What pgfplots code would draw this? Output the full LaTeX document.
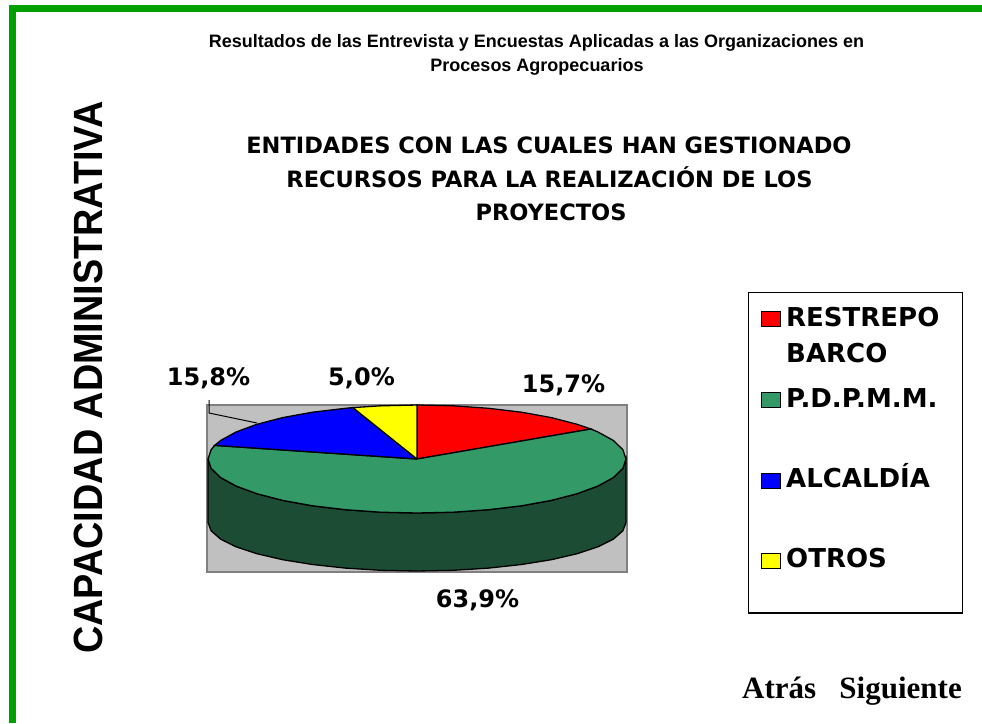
\documentclass[border=0pt]{standalone}
\usepackage{fontspec}
\setmainfont{Liberation Sans}
\newfontfamily\dejavu{DejaVu Sans}
\newfontfamily\timesfont{Liberation Serif}
\usepackage{pgfplots}
\pgfplotsset{compat=1.18}

\definecolor{slred}{RGB}{255,0,0}
\definecolor{slgreen}{RGB}{51,153,102}
\definecolor{slside}{RGB}{28,76,52}
\definecolor{slblue}{RGB}{0,0,255}
\definecolor{slyellow}{RGB}{255,255,0}
\definecolor{plotgray}{RGB}{192,192,192}
\definecolor{frame}{RGB}{0,160,0}

\begin{document}
\begin{tikzpicture}
\begin{axis}[
  scale only axis, width=982pt, height=723pt,
  xmin=0, xmax=982, ymin=0, ymax=723, y dir=reverse,
  hide axis, clip=false,
]
\coordinate (bbA) at (axis cs:0,0);
\coordinate (bbB) at (axis cs:982,723);
% page background and green frame
\fill[white] (axis cs:0,0) rectangle (axis cs:982,723);
\draw[frame, line width=6.5pt] (axis cs:12.5,723) -- (axis cs:12.5,8.5) -- (axis cs:982,8.5);

% header
\node[anchor=base, inner sep=0, font=\bfseries\fontsize{18}{22}\selectfont]
  at (axis cs:536.5,47) {Resultados de las Entrevista y Encuestas Aplicadas a las Organizaciones en};
\node[anchor=base, inner sep=0, font=\bfseries\fontsize{18}{22}\selectfont]
  at (axis cs:537,71) {Procesos Agropecuarios};

% chart title
\node[anchor=base, inner sep=0, font=\dejavu\bfseries\fontsize{22.5}{30}\selectfont]
  at (axis cs:549,153) {ENTIDADES CON LAS CUALES HAN GESTIONADO};
\node[anchor=base, inner sep=0, font=\dejavu\bfseries\fontsize{22.5}{30}\selectfont]
  at (axis cs:549.5,187) {RECURSOS PARA LA REALIZACIÓN DE LOS};
\node[anchor=base, inner sep=0, font=\dejavu\bfseries\fontsize{22.5}{30}\selectfont]
  at (axis cs:551,220) {PROYECTOS};

% side title
\node[rotate=90, inner sep=0, font=\bfseries\fontsize{37.8}{40}\selectfont]
  at (axis cs:88,377.5) {\scalebox{1}[1.08]{CAPACIDAD ADMINISTRATIVA}};

% plot area
\draw[fill=plotgray, draw=gray, line width=1.2pt] (axis cs:207,405) rectangle (axis cs:627,572);

% shares: RESTREPO BARCO 15,7 / P.D.P.M.M. 63,9 / ALCALDIA 15,8 / OTROS 5,0 (%)
% side of the pie (all P.D.P.M.M.)
\addplot[fill=slside, draw=black, line width=1.3pt] coordinates {
  (208,459)(211.2,468.4)(220.6,477.5)(236.0,486.0)(256.9,493.7)(282.7,500.4)
  (312.5,505.8)(345.5,509.7)(380.7,512.2)(417,513)(453.3,512.2)(488.5,509.7)
  (521.5,505.8)(551.3,500.4)(577.1,493.7)(598.0,486.0)(613.4,477.5)(622.8,468.4)
  (626,459)(626,522.5)(622.8,530.9)(613.4,539.1)(598.0,546.8)(577.1,553.7)
  (551.3,559.7)(521.5,564.5)(488.5,568.1)(453.3,570.3)(417,571)(380.7,570.3)
  (345.5,568.1)(312.5,564.5)(282.7,559.7)(256.9,553.7)(236.0,546.8)(220.6,539.1)
  (211.2,530.9)(208,522.5)(208,459)};

% top face wedges
\addplot[fill=slred, draw=black, line width=1.3pt] coordinates {
  (417,459)(417,405)(453.3,405.8)(488.5,408.3)(521.5,412.2)(551.3,417.6)
  (577.1,424.3)(590.9,429.0)(417,459)};
\addplot[fill=slgreen, draw=black, line width=1.3pt] coordinates {
  (417,459)(590.9,429.0)(598.0,432.0)(613.4,440.5)(622.8,449.6)(626,459)
  (622.8,468.4)(613.4,477.5)(598.0,486.0)(577.1,493.7)(551.3,500.4)(521.5,505.8)
  (488.5,509.7)(453.3,512.2)(417,513)(380.7,512.2)(345.5,509.7)(312.5,505.8)
  (282.7,500.4)(256.9,493.7)(236.0,486.0)(220.6,477.5)(211.2,468.4)(208,459)
  (211.2,449.6)(214.7,445.4)(417,459)};
\addplot[fill=slblue, draw=black, line width=1.3pt] coordinates {
  (417,459)(214.7,445.4)(220.6,440.5)(236.0,432.0)(256.9,424.3)(282.7,417.6)
  (312.5,412.2)(345.5,408.3)(352.8,407.6)(417,459)};
\addplot[fill=slyellow, draw=black, line width=1.3pt] coordinates {
  (417,459)(352.8,407.6)(380.7,405.8)(417,405)(417,459)};

% data labels
\draw[black, line width=1pt] (axis cs:209,400) -- (axis cs:209,413) -- (axis cs:257,423);
\node[anchor=base, inner sep=0, font=\dejavu\bfseries\fontsize{24}{28}\selectfont]
  at (axis cs:208.5,385) {15,8\%};
\node[anchor=base, inner sep=0, font=\dejavu\bfseries\fontsize{24}{28}\selectfont]
  at (axis cs:361.5,385) {5,0\%};
\node[anchor=base, inner sep=0, font=\dejavu\bfseries\fontsize{24}{28}\selectfont]
  at (axis cs:563.5,392) {15,7\%};
\node[anchor=base, inner sep=0, font=\dejavu\bfseries\fontsize{24}{28}\selectfont]
  at (axis cs:477.5,607) {63,9\%};

% legend
\draw[black, line width=1.5pt, fill=white] (axis cs:748.3,292.7) rectangle (axis cs:962.7,613);
\draw[fill=slred, line width=1pt] (axis cs:761,311) rectangle (axis cs:780,326);
\draw[fill=slgreen, line width=1pt] (axis cs:761,392) rectangle (axis cs:780,407);
\draw[fill=slblue, line width=1pt] (axis cs:761,473) rectangle (axis cs:780,488);
\draw[fill=slyellow, line width=1pt] (axis cs:761,553) rectangle (axis cs:780,568);
\node[anchor=base west, inner sep=0, font=\dejavu\bfseries\fontsize{26}{30}\selectfont]
  at (axis cs:786,326) {RESTREPO};
\node[anchor=base west, inner sep=0, font=\dejavu\bfseries\fontsize{26}{30}\selectfont]
  at (axis cs:786,362) {BARCO};
\node[anchor=base west, inner sep=0, font=\dejavu\bfseries\fontsize{26}{30}\selectfont]
  at (axis cs:786,407) {P.D.P.M.M.};
\node[anchor=base west, inner sep=0, font=\dejavu\bfseries\fontsize{26}{30}\selectfont]
  at (axis cs:786,487) {ALCALDÍA};
\node[anchor=base west, inner sep=0, font=\dejavu\bfseries\fontsize{26}{30}\selectfont]
  at (axis cs:786,567) {OTROS};

% navigation
\node[anchor=base west, inner sep=0, font=\timesfont\bfseries\fontsize{31}{34}\selectfont]
  at (axis cs:742,698) {Atrás\hspace{0.75em}Siguiente};
\end{axis}
\pgfresetboundingbox
\path[use as bounding box] (bbA) rectangle (bbB);
\end{tikzpicture}
\end{document}
